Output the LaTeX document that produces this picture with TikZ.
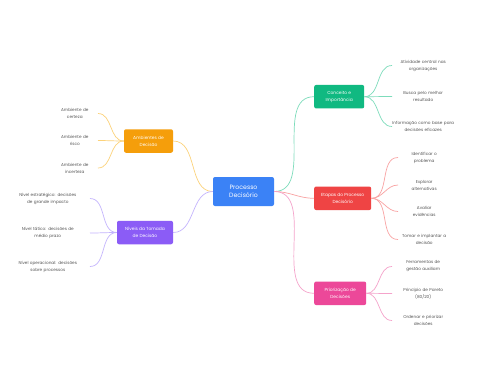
\documentclass[tikz,border=0pt]{standalone}
\usepackage{fontspec}
\setmainfont{Poppins}
\usetikzlibrary{positioning}
\definecolor{hubBlue}{HTML}{3B82F6}
\definecolor{topicOrange}{HTML}{F59E0B}
\definecolor{topicPurple}{HTML}{8B5CF6}
\definecolor{topicGreen}{HTML}{10B981}
\definecolor{topicRed}{HTML}{EF4444}
\definecolor{topicPink}{HTML}{EC4899}
\definecolor{lineOrange}{HTML}{FCD27A}
\definecolor{linePurple}{HTML}{C4B5FD}
\definecolor{lineGreen}{HTML}{7DDCBB}
\definecolor{lineRed}{HTML}{F9A3A3}
\definecolor{linePink}{HTML}{F5A3CB}
\definecolor{leafGray}{HTML}{555555}
\tikzset{
  hub/.style={fill=hubBlue, text=white, rounded corners=2pt, align=center,
    font=\fontsize{6.2}{8.5}\selectfont, minimum width=61pt, minimum height=29pt},
  topic/.style={fill=#1, text=white, rounded corners=2pt, align=center,
    font=\fontsize{4.4}{7}\selectfont, minimum height=23.5pt, inner xsep=1pt},
  leaf/.style={text=leafGray, align=center, font=\fontsize{4.2}{7}\selectfont,
    text width=#1, inner sep=0pt},
  link/.style={draw=#1, line width=0.7pt},
}
\begin{document}
\begin{tikzpicture}[x=1pt, y=-1pt]
  \useasboundingbox[fill=white] (0,0) rectangle (480,384);

  % --- Hub ---
  \node[hub] (hub) at (243.5,191.5) {Processo\\Decisório};

  % --- Left topics ---
  \node[topic=topicOrange, minimum width=49pt] (env) at (148.5,141) {Ambientes de\\Decisão};
  \node[topic=topicPurple, minimum width=56pt] (levels) at (145,232.5) {Níveis da Tomada\\de Decisão};

  % --- Right topics ---
  \node[topic=topicGreen, minimum width=50pt, anchor=west] (concept) at (314,96.7) {Conceito e\\Importância};
  \node[topic=topicRed, minimum width=57pt, anchor=west] (steps) at (314,198.3) {Etapas do Processo\\Decisório};
  \node[topic=topicPink, minimum width=52pt, anchor=west] (prior) at (314,293.3) {Priorização de\\Decisões};

  % --- Leaves: environments ---
  \node[leaf=46pt, anchor=east] (env1) at (98,113.5) {Ambiente de\\certeza};
  \node[leaf=46pt, anchor=east] (env2) at (98,140.5) {Ambiente de\\risco};
  \node[leaf=46pt, anchor=east] (env3) at (98,168) {Ambiente de\\incerteza};

  % --- Leaves: levels ---
  \node[leaf=84pt, anchor=east] (lev1) at (90,198.5) {Nível estratégico: decisões\\de grande impacto};
  \node[leaf=84pt, anchor=east] (lev2) at (90,233) {Nível tático: decisões de\\médio prazo};
  \node[leaf=84pt, anchor=east] (lev3) at (90,266.5) {Nível operacional: decisões\\sobre processos};

  % --- Leaves: concept ---
  \node[leaf=62pt, anchor=west] (con1) at (392,65.5) {Atividade central nas\\organizações};
  \node[leaf=62pt, anchor=west] (con2) at (392,96.5) {Busca pelo melhor\\resultado};
  \node[leaf=62pt, anchor=west] (con3) at (392,126.5) {Informação como base para\\decisões eficazes};

  % --- Leaves: steps ---
  \node[leaf=52pt, anchor=west] (stp1) at (398,157.5) {Identificar o\\problema};
  \node[leaf=52pt, anchor=west] (stp2) at (398,185) {Explorar\\alternativas};
  \node[leaf=52pt, anchor=west] (stp3) at (398,211.5) {Avaliar\\evidências};
  \node[leaf=52pt, anchor=west] (stp4) at (398,239.5) {Tomar e implantar a\\decisão};

  % --- Leaves: prioritisation ---
  \node[leaf=62pt, anchor=west] (pri1) at (392,266.5) {Ferramentas de\\gestão auxiliam};
  \node[leaf=62pt, anchor=west] (pri2) at (392,293.5) {Princípio de Pareto\\(80/20)};
  \node[leaf=62pt, anchor=west] (pri3) at (392,320.5) {Ordenar e priorizar\\decisões};

  % --- Hub links ---
  \draw[link=lineOrange] (hub.west) to[out=180, in=0] (env.east);
  \draw[link=linePurple] (hub.west) to[out=180, in=0] (levels.east);
  \draw[link=lineGreen] (hub.east) to[out=0, in=180] (concept.west);
  \draw[link=lineRed] (hub.east) to[out=0, in=180] (steps.west);
  \draw[link=linePink] (hub.east) to[out=0, in=180] (prior.west);

  % --- Leaf links ---
  \foreach \leafname in {env1,env2,env3}
    \draw[link=lineOrange] (env.west) to[out=180, in=0] (\leafname.east);
  \foreach \leafname in {lev1,lev2,lev3}
    \draw[link=linePurple] (levels.west) to[out=180, in=0] (\leafname.east);
  \foreach \leafname in {con1,con2,con3}
    \draw[link=lineGreen] (concept.east) to[out=0, in=180] (\leafname.west);
  \foreach \leafname in {stp1,stp2,stp3,stp4}
    \draw[link=lineRed] (steps.east) to[out=0, in=180] (\leafname.west);
  \foreach \leafname in {pri1,pri2,pri3}
    \draw[link=linePink] (prior.east) to[out=0, in=180] (\leafname.west);
\end{tikzpicture}
\end{document}
